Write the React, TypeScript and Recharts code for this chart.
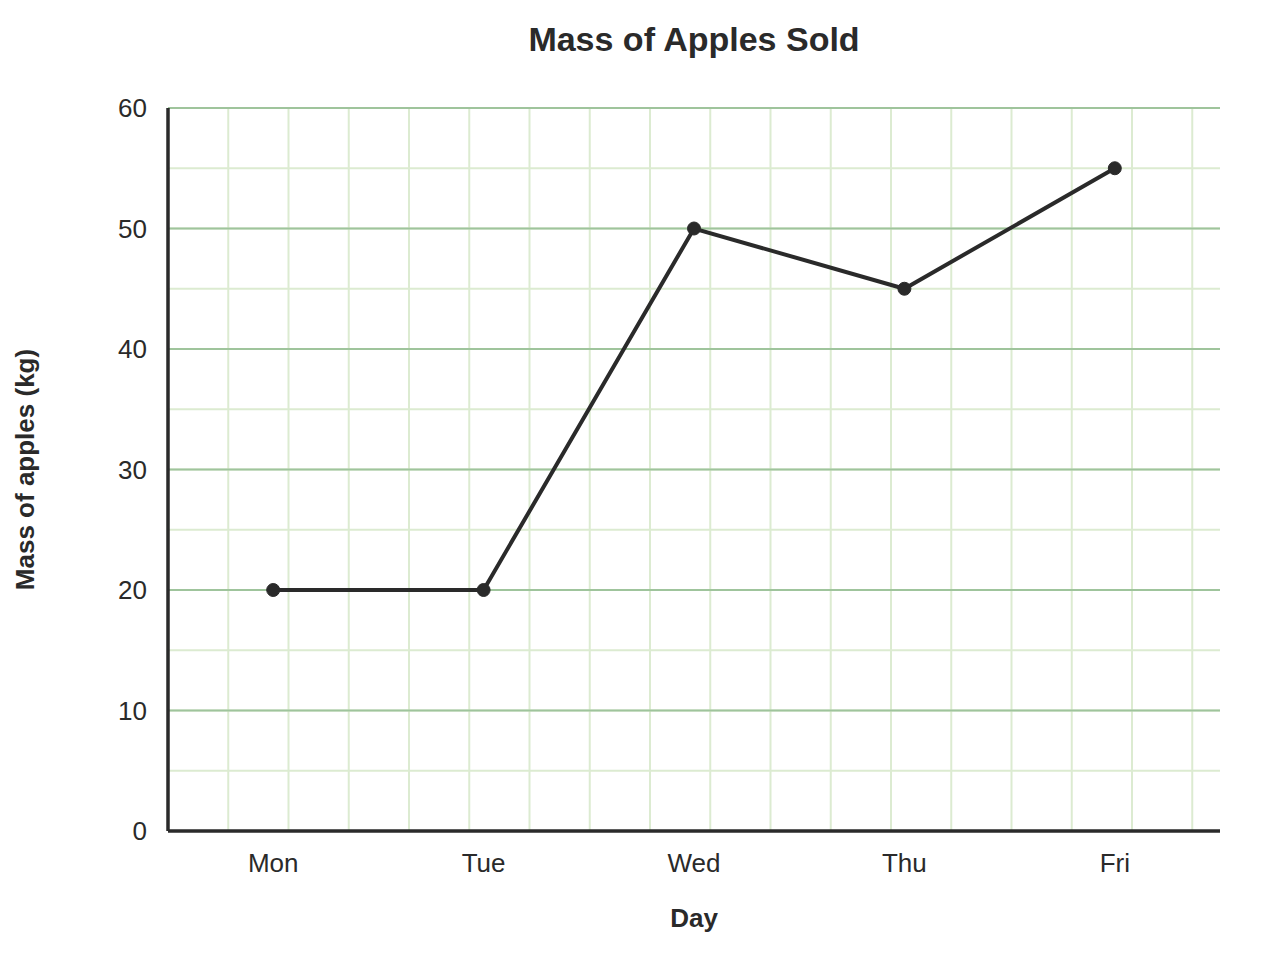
import React from 'react';
import { LineChart, Line, XAxis, YAxis, CartesianGrid } from 'recharts';

const days = ['Mon', 'Tue', 'Wed', 'Thu', 'Fri'];
const massKg = [20, 20, 50, 45, 55];

const yTicks = [0, 10, 20, 30, 40, 50, 60];
const yMinorTicks = [0, 5, 10, 15, 20, 25, 30, 35, 40, 45, 50, 55, 60];

const data = days.map((day, i) => ({ day, mass: massKg[i] }));

const INK = '#2a2a2a';
const FONT = '"Liberation Sans", Arial, Helvetica, sans-serif';

// square grid: columns as wide as one 5 kg row
const squareColumns = ({ offset }: any) => {
  const step = offset.height / (yMinorTicks.length - 1);
  const xs: number[] = [];
  for (let x = offset.left; x < offset.left + offset.width - 1; x += step) xs.push(x);
  return xs;
};

const App: React.FC = () => {
  return (
    <div style={{ position: 'relative', width: 1280, height: 980, margin: -8, fontFamily: FONT, background: '#fff' }}>
      <div
        style={{
          position: 'absolute',
          left: 168,
          top: 22,
          width: 1052,
          textAlign: 'center',
          fontSize: 34,
          lineHeight: '34px',
          fontWeight: 'bold',
          color: INK,
        }}
      >
        Mass of Apples Sold
      </div>
      <LineChart
        width={1280}
        height={980}
        data={data}
        margin={{ top: 108, right: 60, bottom: 89, left: 8 }}
        style={{ fontFamily: FONT }}
      >
        {/* light grid, rows every 5 kg */}
        <CartesianGrid yAxisId="minor" verticalCoordinatesGenerator={squareColumns} stroke="#dcebd1" strokeWidth={2} />
        {/* darker major lines every 10 kg */}
        <CartesianGrid vertical={false} stroke="#9fc49c" strokeWidth={2} />

        <YAxis yAxisId="minor" type="number" domain={[0, 60]} ticks={yMinorTicks} allowDataOverflow hide />

        <XAxis
          dataKey="day"
          scale="band"
          height={60}
          axisLine={{ stroke: INK, strokeWidth: 3.5 }}
          tickLine={false}
          tickSize={0}
          tickMargin={22.5}
          tick={{ fill: INK, fontSize: 26 }}
          label={{ value: 'Day', position: 'bottom', offset: 17.5, fill: INK, fontSize: 26, fontWeight: 'bold' }}
        />
        <YAxis
          width={160}
          domain={[0, 60]}
          ticks={yTicks}
          axisLine={{ stroke: INK, strokeWidth: 3.5 }}
          tickLine={false}
          tickSize={0}
          tickMargin={21}
          tick={{ fill: INK, fontSize: 26 }}
          label={{
            value: 'Mass of apples (kg)',
            angle: -90,
            position: 'insideLeft',
            offset: 17,
            fill: INK,
            fontSize: 26,
            fontWeight: 'bold',
            style: { textAnchor: 'middle' },
          }}
        />

        <Line
          type="linear"
          dataKey="mass"
          stroke={INK}
          strokeWidth={4}
          dot={{ r: 6.5, fill: INK, stroke: INK, strokeWidth: 1 }}
          isAnimationActive={false}
        />
      </LineChart>
    </div>
  );
};

export default App;
